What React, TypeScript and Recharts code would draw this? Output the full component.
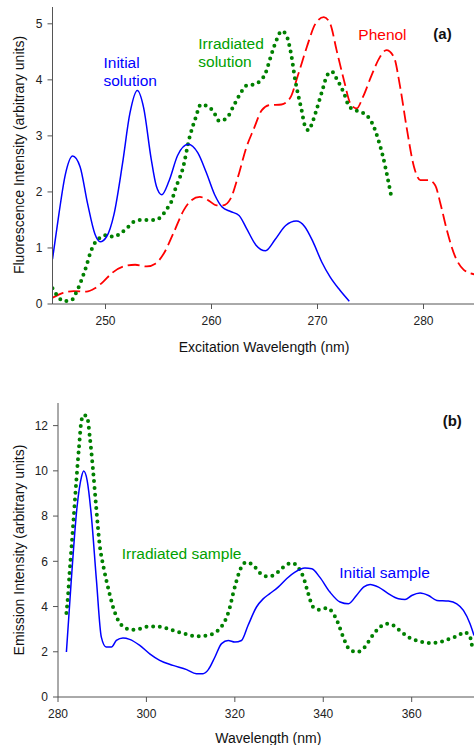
import { LineChart, Line, XAxis, YAxis } from "recharts"

// panel (a): excitation spectra, [wavelength nm, intensity]
const initialSolutionA: [number, number][] = [
  [245, 0.8], [245.6, 1.6], [246.2, 2.3], [246.9, 2.64], [247.6, 2.45], [248.3, 1.8],
  [249.0, 1.25], [249.5, 1.11], [250.1, 1.2], [250.8, 1.6], [251.6, 2.5], [252.3, 3.4],
  [253.0, 3.81], [253.6, 3.5], [254.3, 2.6], [254.8, 2.1], [255.3, 1.95], [256.0, 2.2],
  [256.8, 2.65], [257.8, 2.85], [258.7, 2.7], [259.5, 2.35], [260.3, 1.95], [261.0, 1.73],
  [261.8, 1.65], [262.6, 1.58], [263.3, 1.35], [264.2, 1.05], [265.1, 0.95], [266.0, 1.15],
  [267.0, 1.4], [268.0, 1.48], [268.8, 1.38], [269.6, 1.1], [270.4, 0.75], [271.2, 0.48],
  [272.1, 0.25], [273.0, 0.05],
]

const irradiatedSolutionA: [number, number][] = [
  [245, 0.28], [245.4, 0.16], [246.1, 0.05], [246.8, 0.07], [247.2, 0.19], [247.8, 0.46],
  [248.2, 0.68], [248.6, 0.93], [248.9, 1.06], [249.4, 1.17], [250.1, 1.23], [250.75, 1.2],
  [251.4, 1.26], [252.0, 1.35], [252.6, 1.46], [253.4, 1.5], [254.7, 1.5], [255.3, 1.57],
  [255.8, 1.7], [256.2, 1.82], [256.6, 2.06], [257.3, 2.42], [257.9, 2.95], [258.5, 3.32],
  [259.0, 3.56], [259.7, 3.52], [260.2, 3.43], [260.7, 3.27], [261.4, 3.31], [262.1, 3.54],
  [262.9, 3.81], [263.3, 3.9], [264.0, 3.92], [264.65, 3.99], [265.1, 4.12], [265.5, 4.36],
  [266.2, 4.74], [266.6, 4.87], [267.0, 4.82], [267.5, 4.47], [267.9, 3.99], [268.5, 3.46],
  [268.8, 3.19], [269.15, 3.1], [269.5, 3.23], [269.9, 3.46], [270.5, 3.84], [270.9, 4.08],
  [271.35, 4.15], [271.8, 4.02], [272.5, 3.76], [273.0, 3.52], [273.7, 3.45], [274.3, 3.41],
  [274.9, 3.31], [275.3, 3.17], [275.75, 2.92], [276.1, 2.69], [276.55, 2.31], [276.95, 1.93],
]

const phenolA: [number, number][] = [
  [245, 0.11], [246.0, 0.2], [247.0, 0.23], [248.2, 0.22], [249.0, 0.28], [249.8, 0.4],
  [250.6, 0.55], [251.7, 0.67], [252.8, 0.7], [253.9, 0.67], [254.7, 0.72], [255.5, 0.9],
  [256.4, 1.26], [257.4, 1.68], [258.1, 1.85], [258.9, 1.91], [259.7, 1.85], [260.5, 1.76],
  [261.1, 1.76], [261.8, 1.88], [262.5, 2.27], [263.3, 2.8], [264.0, 3.13], [264.75, 3.46],
  [265.5, 3.55], [266.6, 3.56], [267.4, 3.67], [268.2, 4.11], [269.0, 4.59], [269.8, 5.0],
  [270.6, 5.12], [271.2, 5.0], [271.8, 4.53], [272.5, 3.99], [273.1, 3.58], [273.7, 3.49],
  [274.3, 3.7], [275.1, 4.08], [275.9, 4.41], [276.5, 4.53], [277.2, 4.41], [277.8, 3.87],
  [278.4, 3.16], [279.1, 2.45], [279.7, 2.21], [280.5, 2.21], [281.1, 2.12], [281.6, 1.79],
  [282.2, 1.32], [283.0, 0.84], [283.8, 0.61], [284.8, 0.53],
]

// panel (b): emission spectra
const initialSampleB: [number, number][] = [
  [281.9, 1.99], [283.0, 5.15], [284.3, 8.39], [285.3, 9.72], [285.8, 9.99], [286.6, 9.57],
  [287.5, 8.1], [288.7, 5.15], [289.8, 2.65], [290.9, 2.21], [292.1, 2.21], [293.2, 2.5],
  [294.7, 2.61], [296.2, 2.55], [298.5, 2.28], [300.75, 1.91], [303.0, 1.62], [306.0, 1.4],
  [309.1, 1.21], [311.3, 1.03], [312.8, 1.03], [314.0, 1.21], [315.5, 1.77], [317.0, 2.36],
  [318.5, 2.5], [320.0, 2.43], [321.5, 2.5], [323.0, 3.17], [324.9, 3.98], [326.4, 4.34],
  [327.9, 4.57], [329.8, 4.86], [331.7, 5.23], [333.6, 5.52], [335.85, 5.7], [337.4, 5.67],
  [339.2, 5.3], [341.5, 4.64], [343.8, 4.2], [345.7, 4.12], [347.5, 4.49], [349.1, 4.86],
  [350.6, 4.98], [352.5, 4.86], [354.7, 4.57], [357.0, 4.34], [358.5, 4.31], [360.0, 4.49],
  [361.9, 4.6], [363.8, 4.49], [365.7, 4.27], [368.3, 4.24], [370.2, 4.12], [371.7, 3.83],
  [373.2, 3.24], [374.1, 2.72],
]

const irradiatedSampleB: [number, number][] = [
  [281.9, 3.71], [282.3, 4.57], [282.6, 5.45], [283.0, 6.48], [283.5, 7.81], [284.15, 9.57],
  [284.75, 11.05], [285.3, 12.22], [285.8, 12.47], [286.6, 12.37], [287.2, 11.49], [287.9, 10.09],
  [288.7, 8.25], [289.4, 6.77], [290.3, 5.74], [291.3, 4.86], [292.45, 3.98], [293.6, 3.39],
  [294.9, 3.09], [296.6, 2.97], [298.5, 3.02], [300.4, 3.12], [302.3, 3.12], [304.2, 3.06],
  [306.4, 2.92], [309.1, 2.77], [311.3, 2.68], [313.6, 2.72], [315.7, 2.87], [317.0, 3.12],
  [318.0, 3.46], [318.9, 3.98], [319.6, 4.57], [320.4, 5.15], [321.3, 5.67], [322.6, 5.96],
  [324.2, 5.82], [325.7, 5.48], [327.2, 5.33], [328.7, 5.38], [330.2, 5.6], [331.7, 5.85],
  [333.1, 5.92], [334.3, 5.74], [335.5, 5.3], [336.6, 4.57], [337.7, 3.98], [339.2, 3.86],
  [340.75, 3.93], [342.3, 3.68], [343.4, 3.24], [344.5, 2.65], [346.0, 2.09], [347.7, 1.99],
  [349.4, 2.21], [350.9, 2.65], [352.8, 3.09], [354.3, 3.24], [355.8, 3.17], [357.4, 2.92],
  [359.2, 2.65], [361.5, 2.47], [364.2, 2.39], [366.4, 2.43], [368.7, 2.58], [370.6, 2.72],
  [371.9, 2.87], [373.2, 2.65], [373.8, 2.06],
]

const xTicksA = [250, 260, 270, 280]
const yTicksA = [0, 1, 2, 3, 4, 5]
const xTicksB = [280, 300, 320, 340, 360]
const yTicksB = [0, 2, 4, 6, 8, 10, 12]

const toPoints = (rows: [number, number][]) => rows.map(([x, y]) => ({ x, y }))

const font = "'Liberation Sans', Arial, sans-serif"
const axisStroke = "#555"
const tickStyle = { fill: "#222", fontSize: 12, fontFamily: font }

export default function App() {
  return (
    <div style={{ position: "fixed", left: 0, top: 0, width: 474, height: 745, overflow: "hidden", background: "#fff" }}>
      <div style={{ position: "absolute", left: 0, top: 0 }}>
        <LineChart width={480} height={380} margin={{ top: 7, right: 3.5, bottom: 0, left: 0 }}>
          <XAxis
            type="number"
            dataKey="x"
            domain={[245, 285]}
            ticks={xTicksA}
            allowDataOverflow
            height={76}
            tickSize={5}
            tickMargin={7}
            tick={tickStyle}
            axisLine={{ stroke: axisStroke }}
            tickLine={{ stroke: axisStroke }}
          />
          <YAxis
            type="number"
            domain={[0, 5.3]}
            ticks={yTicksA}
            allowDataOverflow
            width={52.5}
            tickSize={5}
            tickMargin={5}
            tick={tickStyle}
            axisLine={{ stroke: axisStroke }}
            tickLine={{ stroke: axisStroke }}
          />
          <Line data={toPoints(phenolA)} dataKey="y" type="monotone" stroke="#ff0000" strokeWidth={1.8}
            strokeDasharray="12 5" dot={false} isAnimationActive={false} />
          <Line data={toPoints(irradiatedSolutionA)} dataKey="y" type="monotone" stroke="#008000" strokeWidth={4}
            strokeDasharray="0 6.7" strokeLinecap="round" dot={false} isAnimationActive={false} />
          <Line data={toPoints(initialSolutionA)} dataKey="y" type="monotone" stroke="#0000ff" strokeWidth={1.5}
            dot={false} isAnimationActive={false} />
        </LineChart>
      </div>
      <div style={{ position: "absolute", left: 0, top: 380 }}>
        <LineChart width={480} height={365} margin={{ top: 23, right: 2, bottom: 0, left: 0 }}>
          <XAxis
            type="number"
            dataKey="x"
            domain={[280, 375]}
            ticks={xTicksB}
            allowDataOverflow
            height={48}
            tickSize={5}
            tickMargin={7}
            tick={tickStyle}
            axisLine={{ stroke: axisStroke }}
            tickLine={{ stroke: axisStroke }}
          />
          <YAxis
            type="number"
            domain={[0, 13]}
            ticks={yTicksB}
            allowDataOverflow
            width={58}
            tickSize={5}
            tickMargin={5}
            tick={tickStyle}
            axisLine={{ stroke: axisStroke }}
            tickLine={{ stroke: axisStroke }}
          />
          <Line data={toPoints(irradiatedSampleB)} dataKey="y" type="monotone" stroke="#008000" strokeWidth={4}
            strokeDasharray="0 6.7" strokeLinecap="round" dot={false} isAnimationActive={false} />
          <Line data={toPoints(initialSampleB)} dataKey="y" type="monotone" stroke="#0000ff" strokeWidth={1.5}
            dot={false} isAnimationActive={false} />
        </LineChart>
      </div>
      <svg width={474} height={745} style={{ position: "absolute", left: 0, top: 0, pointerEvents: "none" }}
        fontFamily={font}>
        <text x={18.5} y={155} fontSize={14} fill="#111" textAnchor="middle" dominantBaseline="central"
          transform="rotate(-90 18.5 155)">Fluorescence Intensity (arbitrary units)</text>
        <text x={264} y={351.5} fontSize={14} fill="#111" textAnchor="middle">Excitation Wavelength (nm)</text>
        <text x={103.5} y={67.7} fontSize={15.5} fill="#0000ff">Initial</text>
        <text x={103.5} y={85.5} fontSize={15.5} fill="#0000ff">solution</text>
        <text x={198.3} y={49} fontSize={15.5} fill="#00a000">Irradiated</text>
        <text x={198.3} y={67} fontSize={15.5} fill="#00a000">solution</text>
        <text x={358.3} y={40} fontSize={15.5} fill="#ff0000">Phenol</text>
        <text x={433.3} y={38.5} fontSize={15} fontWeight="bold" fill="#111">(a)</text>

        <text x={18.5} y={550} fontSize={14} fill="#111" textAnchor="middle" dominantBaseline="central"
          transform="rotate(-90 18.5 550)">Emission Intensity (arbitrary units)</text>
        <text x={268.3} y={743} fontSize={14} fill="#111" textAnchor="middle">Wavelength (nm)</text>
        <text x={121.7} y={559.3} fontSize={15.5} fill="#00a000">Irradiated sample</text>
        <text x={339.3} y={578.3} fontSize={15.5} fill="#0000ff">Initial sample</text>
        <text x={442.7} y={425.5} fontSize={15} fontWeight="bold" fill="#111">(b)</text>
      </svg>
    </div>
  )
}
